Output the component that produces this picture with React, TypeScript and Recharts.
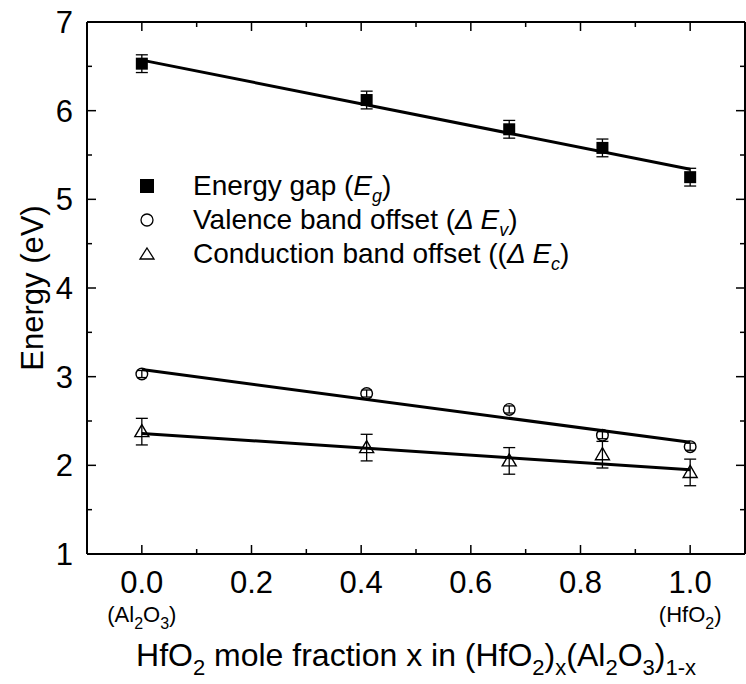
import {
  ComposedChart,
  ErrorBar,
  Label,
  Scatter,
  XAxis,
  YAxis,
} from "recharts";

// HfO2 mole fraction of each sample
const xPos = [0, 0.41, 0.67, 0.84, 1.0];

const gapValues = [6.53, 6.12, 5.79, 5.58, 5.25];
const gapErr = [0.1, 0.1, 0.1, 0.1, 0.1];
const valenceValues = [3.03, 2.81, 2.63, 2.34, 2.21];
const valenceErr = [0.04, 0.04, 0.04, 0.04, 0.04];
const conductionValues = [2.38, 2.2, 2.05, 2.12, 1.92];
const conductionErr = [0.15, 0.15, 0.15, 0.15, 0.15];

// linear fits, evaluated at both ends
const fitX = [0, 1.0];
const gapFit = [6.57, 5.34];
const valenceFit = [3.08, 2.26];
const conductionFit = [2.36, 1.95];

const xTicks = [0, 0.1, 0.2, 0.3, 0.4, 0.5, 0.6, 0.7, 0.8, 0.9, 1.0];
const xTickLabels = ["0.0", "", "0.2", "", "0.4", "", "0.6", "", "0.8", "", "1.0"];
const yTicks = [1, 1.5, 2, 2.5, 3, 3.5, 4, 4.5, 5, 5.5, 6, 6.5, 7];
const yTickLabels = ["1", "", "2", "", "3", "", "4", "", "5", "", "6", "", "7"];

const FONT = '"Liberation Sans", Arial, sans-serif';
const W = 746;
const H = 684;

const toPoints = (ys: number[], errs: number[]) =>
  ys.map((y, i) => ({ x: xPos[i], y, err: errs[i] }));
const toFit = (ys: number[]) => ys.map((y, i) => ({ x: fitX[i], y }));

const gapData = toPoints(gapValues, gapErr);
const valenceData = toPoints(valenceValues, valenceErr);
const conductionData = toPoints(conductionValues, conductionErr);

const Square = ({ cx, cy }: any) => (
  <rect x={cx - 6} y={cy - 6} width={12} height={12} fill="#000" />
);
const Circle = ({ cx, cy }: any) => (
  <circle cx={cx} cy={cy} r={5.8} fill="none" stroke="#000" strokeWidth={1.4} />
);
const Triangle = ({ cx, cy }: any) => (
  <polygon
    points={`${cx},${cy - 7} ${cx + 7},${cy + 5} ${cx - 7},${cy + 5}`}
    fill="none"
    stroke="#000"
    strokeWidth={1.4}
  />
);
const NoDot = () => <g />;

const BottomTick = ({ x, y, index }: any) => {
  const label = xTickLabels[index];
  const major = label !== "";
  return (
    <g>
      <line x1={x} x2={x} y1={y} y2={y - (major ? 9 : 5)} stroke="#000" strokeWidth={1.5} />
      {major && (
        <text x={x} y={y + 39} textAnchor="middle" fontSize={31} fontFamily={FONT} fill="#000">
          {label}
        </text>
      )}
      {index === 0 && (
        <text x={x} y={y + 68} textAnchor="middle" fontSize={22} fontFamily={FONT} fill="#000">
          (Al
          <tspan fontSize={16} dy={7}>2</tspan>
          <tspan dy={-7}>O</tspan>
          <tspan fontSize={16} dy={7}>3</tspan>
          <tspan dy={-7}>)</tspan>
        </text>
      )}
      {index === xTicks.length - 1 && (
        <text x={x} y={y + 68} textAnchor="middle" fontSize={22} fontFamily={FONT} fill="#000">
          (HfO
          <tspan fontSize={16} dy={7}>2</tspan>
          <tspan dy={-7}>)</tspan>
        </text>
      )}
    </g>
  );
};

const TopTick = ({ x, y, index }: any) => (
  <line
    x1={x}
    x2={x}
    y1={y}
    y2={y + (xTickLabels[index] !== "" ? 9 : 5)}
    stroke="#000"
    strokeWidth={1.5}
  />
);

const LeftTick = ({ x, y, index }: any) => {
  const label = yTickLabels[index];
  const major = label !== "";
  return (
    <g>
      <line x1={x} x2={x + (major ? 9 : 5)} y1={y} y2={y} stroke="#000" strokeWidth={1.5} />
      {major && (
        <text x={x - 14} y={y + 11} textAnchor="end" fontSize={31} fontFamily={FONT} fill="#000">
          {label}
        </text>
      )}
    </g>
  );
};

const RightTick = ({ x, y, index }: any) => (
  <line
    x1={x}
    x2={x - (yTickLabels[index] !== "" ? 9 : 5)}
    y1={y}
    y2={y}
    stroke="#000"
    strokeWidth={1.5}
  />
);

const XTitle = ({ viewBox }: any) => {
  const cx = viewBox.x + viewBox.width / 2;
  return (
    <text x={cx} y={viewBox.y + 112} textAnchor="middle" fontSize={32} fontFamily={FONT} fill="#000">
      HfO
      <tspan fontSize={22} dy={9}>2</tspan>
      <tspan dy={-9}> mole fraction x in (HfO</tspan>
      <tspan fontSize={22} dy={9}>2</tspan>
      <tspan dy={-9}>)</tspan>
      <tspan fontSize={22} dy={9}>x</tspan>
      <tspan dy={-9}>(Al</tspan>
      <tspan fontSize={22} dy={9}>2</tspan>
      <tspan dy={-9}>O</tspan>
      <tspan fontSize={22} dy={9}>3</tspan>
      <tspan dy={-9}>)</tspan>
      <tspan fontSize={22} dy={9}>1-x</tspan>
    </text>
  );
};

const YTitle = ({ viewBox }: any) => {
  const cy = viewBox.y + viewBox.height / 2;
  const x = 43;
  return (
    <text
      x={x}
      y={cy}
      transform={`rotate(-90 ${x} ${cy})`}
      textAnchor="middle"
      fontSize={31}
      fontFamily={FONT}
      fill="#000"
    >
      Energy (eV)
    </text>
  );
};

const legendRow = { display: "flex", alignItems: "center", height: 34 } as const;
const markerBox = { width: 20, height: 20, marginRight: 36 } as const;
const subStyle = { fontSize: 18, verticalAlign: -7, lineHeight: 0 } as const;

function ChartLegend() {
  return (
    <div
      style={{
        position: "absolute",
        left: 137,
        top: 169,
        fontFamily: FONT,
        fontSize: 28,
        color: "#000",
        lineHeight: 1,
        whiteSpace: "nowrap",
      }}
    >
      <div style={legendRow}>
        <svg style={markerBox} viewBox="0 0 20 20">
          <rect x={3} y={3} width={14} height={14} fill="#000" />
        </svg>
        <span>
          Energy gap (<i>E</i>
          <sub style={subStyle}>
            <i>g</i>
          </sub>
          )
        </span>
      </div>
      <div style={legendRow}>
        <svg style={markerBox} viewBox="0 0 20 20">
          <circle cx={10} cy={10} r={6} fill="none" stroke="#000" strokeWidth={1.3} />
        </svg>
        <span>
          Valence band offset (<i>Δ E</i>
          <sub style={subStyle}>
            <i>v</i>
          </sub>
          )
        </span>
      </div>
      <div style={legendRow}>
        <svg style={markerBox} viewBox="0 0 20 20">
          <polygon points="10,4 17,15 3,15" fill="none" stroke="#000" strokeWidth={1.3} />
        </svg>
        <span>
          Conduction band offset ((<i>Δ E</i>
          <sub style={subStyle}>
            <i>c</i>
          </sub>
          )
        </span>
      </div>
    </div>
  );
}

export default function App() {
  return (
    <div style={{ position: "absolute", left: 0, top: 0, width: W, height: H, background: "#fff" }}>
      <ComposedChart width={W} height={H} margin={{ top: 0, right: 0, bottom: 0, left: 0 }}>
        <XAxis
          xAxisId="bottom"
          dataKey="x"
          type="number"
          domain={[-0.1, 1.1]}
          ticks={xTicks}
          interval={0}
          allowDataOverflow
          height={130}
          tickSize={0}
          tickMargin={0}
          tickLine={false}
          tick={<BottomTick />}
          axisLine={{ stroke: "#000", strokeWidth: 2 }}
        >
          <Label content={<XTitle />} />
        </XAxis>
        <XAxis
          xAxisId="top"
          orientation="top"
          dataKey="x"
          type="number"
          domain={[-0.1, 1.1]}
          ticks={xTicks}
          interval={0}
          allowDataOverflow
          height={22}
          tickSize={0}
          tickMargin={0}
          tickLine={false}
          tick={<TopTick />}
          axisLine={{ stroke: "#000", strokeWidth: 2 }}
        />
        <YAxis
          yAxisId="left"
          dataKey="y"
          type="number"
          domain={[1, 7]}
          ticks={yTicks}
          interval={0}
          allowDataOverflow
          width={87}
          tickSize={0}
          tickMargin={0}
          tickLine={false}
          tick={<LeftTick />}
          axisLine={{ stroke: "#000", strokeWidth: 2 }}
        >
          <Label content={<YTitle />} />
        </YAxis>
        <YAxis
          yAxisId="right"
          orientation="right"
          dataKey="y"
          type="number"
          domain={[1, 7]}
          ticks={yTicks}
          interval={0}
          allowDataOverflow
          width={1}
          tickSize={0}
          tickMargin={0}
          tickLine={false}
          tick={<RightTick />}
          axisLine={{ stroke: "#000", strokeWidth: 2 }}
        />

        <Scatter
          xAxisId="bottom"
          yAxisId="left"
          data={toFit(gapFit)}
          line={{ stroke: "#000", strokeWidth: 3 }}
          shape={<NoDot />}
          isAnimationActive={false}
        />
        <Scatter
          xAxisId="bottom"
          yAxisId="left"
          data={toFit(valenceFit)}
          line={{ stroke: "#000", strokeWidth: 3 }}
          shape={<NoDot />}
          isAnimationActive={false}
        />
        <Scatter
          xAxisId="bottom"
          yAxisId="left"
          data={toFit(conductionFit)}
          line={{ stroke: "#000", strokeWidth: 3 }}
          shape={<NoDot />}
          isAnimationActive={false}
        />

        <Scatter
          xAxisId="bottom"
          yAxisId="left"
          data={gapData}
          shape={<Square />}
          isAnimationActive={false}
        >
          <ErrorBar dataKey="err" direction="y" width={6} stroke="#000" strokeWidth={1.3} />
        </Scatter>
        <Scatter
          xAxisId="bottom"
          yAxisId="left"
          data={valenceData}
          shape={<Circle />}
          isAnimationActive={false}
        >
          <ErrorBar dataKey="err" direction="y" width={5} stroke="#000" strokeWidth={1.3} />
        </Scatter>
        <Scatter
          xAxisId="bottom"
          yAxisId="left"
          data={conductionData}
          shape={<Triangle />}
          isAnimationActive={false}
        >
          <ErrorBar dataKey="err" direction="y" width={6} stroke="#000" strokeWidth={1.3} />
        </Scatter>
      </ComposedChart>
      <ChartLegend />
    </div>
  );
}
